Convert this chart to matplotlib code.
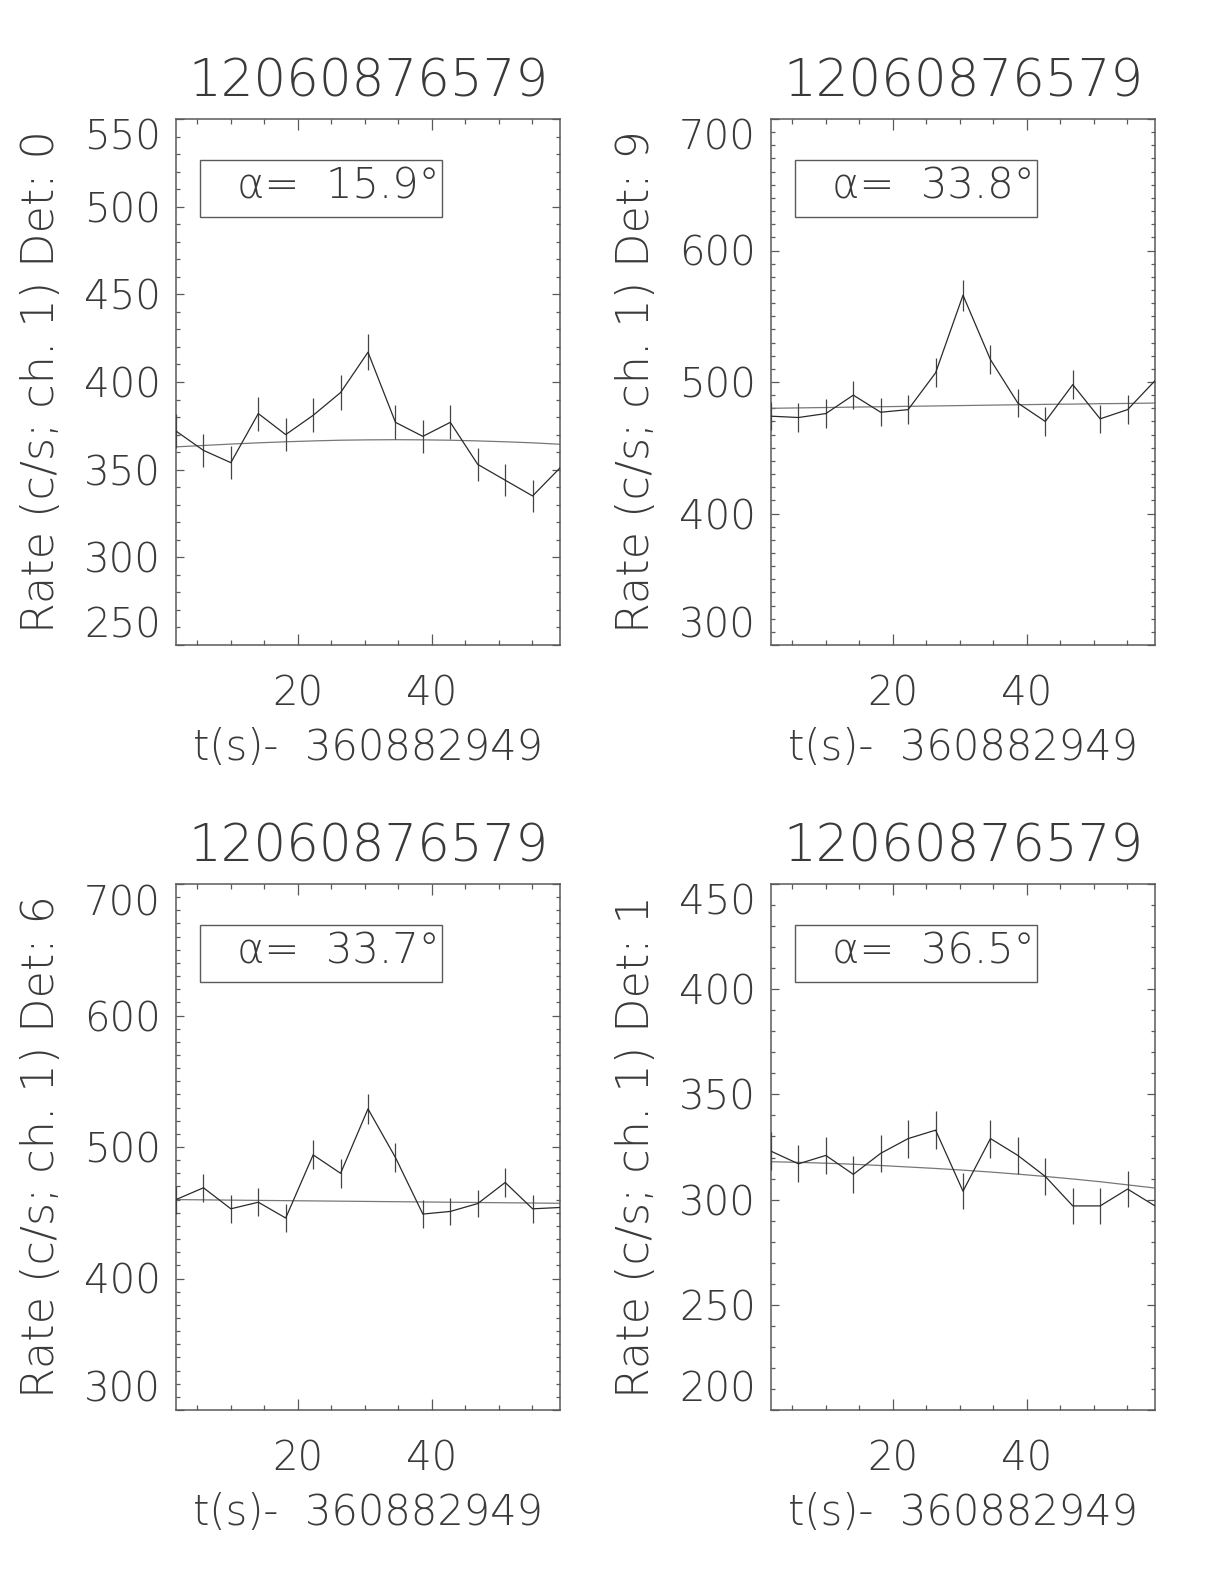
import matplotlib
matplotlib.use('Agg')
import matplotlib.pyplot as plt
from matplotlib import font_manager as fm
from matplotlib.ticker import MultipleLocator
from matplotlib.patches import Rectangle

# ---------------- data ----------------
time = [1.79, 5.89, 9.98, 14.08, 18.17, 22.27, 26.37, 30.46,
        34.56, 38.65, 42.75, 46.85, 50.94, 55.04, 59.13]

panel_titles = ['12060876579', '12060876579', '12060876579', '12060876579']
detectors = ['0', '9', '6', '1']
alphas = ['15.9', '33.8', '33.7', '36.5']

rate_det0 = [372, 361, 354, 382, 370, 381, 394, 417, 377, 369, 377, 353, 344, 335, 351]
err_det0 = [9.5, 9.4, 9.3, 9.7, 9.5, 9.6, 9.8, 10.1, 9.6, 9.5, 9.6, 9.3, 9.2, 9.0, 9.3]
fit_det0 = [363.0, 363.8, 364.6, 365.3, 365.9, 366.4, 366.8, 367.0, 367.1, 367.0,
            366.8, 366.4, 365.9, 365.3, 364.5]

rate_det9 = [474, 473, 476, 490, 477, 479, 507, 566, 517, 484, 470, 498, 472, 479, 501]
err_det9 = [10.8, 10.7, 10.8, 10.9, 10.8, 10.8, 11.1, 11.8, 11.2, 10.9, 10.7, 11.0, 10.7, 10.8, 11.1]
fit_det9 = [480.0, 480.3, 480.6, 480.9, 481.2, 481.5, 481.8, 482.1, 482.4, 482.7,
            483.0, 483.2, 483.5, 483.7, 484.0]

rate_det6 = [460, 469, 453, 458, 446, 494, 480, 529, 492, 449, 451, 457, 473, 453, 454]
err_det6 = [10.6, 10.7, 10.5, 10.6, 10.4, 11.0, 10.8, 11.4, 11.0, 10.5, 10.5, 10.6, 10.7, 10.5, 10.5]
fit_det6 = [460.0, 459.8, 459.6, 459.4, 459.2, 459.0, 458.8, 458.6, 458.4, 458.2,
            458.0, 457.8, 457.6, 457.4, 457.2]

rate_det1 = [323, 317, 321, 312, 322, 329, 333, 304, 329, 321, 311, 297, 297, 305, 297]
err_det1 = [8.9, 8.8, 8.9, 8.7, 8.9, 9.0, 9.0, 8.6, 9.0, 8.9, 8.7, 8.5, 8.5, 8.6, 8.5]
fit_det1 = [318.0, 317.7, 317.3, 316.8, 316.2, 315.5, 314.8, 314.0, 313.1, 312.1,
            311.0, 309.8, 308.5, 307.0, 305.5]

rates = [rate_det0, rate_det9, rate_det6, rate_det1]
errors = [err_det0, err_det9, err_det6, err_det1]
fits = [fit_det0, fit_det9, fit_det6, fit_det1]

y_ranges = [(250, 550), (300, 700), (300, 700), (200, 450)]
y_major = [50, 100, 100, 50]
y_minor = [10, 10, 10, 10]
x_major = 20
x_minor = 5
t_offset = '360882949'

# ---------------- font: prefer a light DejaVu, else lightest available ----------------
def _w(f):
    return f.weight if isinstance(f.weight, int) else 400

fonts = [(f.name, _w(f)) for f in fm.fontManager.ttflist if f.style == 'normal']
dv = [w for n, w in fonts if n == 'DejaVu Sans' and w < 400]
if dv:
    fam, wt = 'DejaVu Sans', min(dv)
else:
    cands = ['Roboto', 'Lato', 'Open Sans', 'Inter', 'Noto Sans']
    light = [(w, n) for n, w in fonts if n in cands]
    wt, fam = min(light) if light else (400, 'DejaVu Sans')

plt.rcParams['font.family'] = [fam, 'DejaVu Sans']
plt.rcParams['font.weight'] = wt
plt.rcParams['axes.titleweight'] = wt
plt.rcParams['axes.labelweight'] = wt

SMALL = 29 if fam == 'DejaVu Sans' else 31
TXT = '#3a3a3a'
AX = '#5a5a5a'
LINE = '#2a2a2a'

fig = plt.figure(figsize=(12.24, 15.84), dpi=100)
W, H = 1224, 1584
boxes = [(176, 119), (771, 119), (176, 884), (771, 884)]
aw, ah = 384, 526

for k in range(4):
    x0, ytop = boxes[k]
    ax = fig.add_axes([x0 / W, 1 - (ytop + ah) / H, aw / W, ah / H])
    ax.plot(time, fits[k], color='#777777', lw=0.9, zorder=2)
    ax.errorbar(time, rates[k], yerr=errors[k], fmt='-', color=LINE, ecolor='#444444',
                elinewidth=0.9, lw=0.9, capsize=0, zorder=3)
    ax.set_xlim(time[0], time[-1])
    ax.set_ylim(*y_ranges[k])
    ax.xaxis.set_major_locator(MultipleLocator(x_major))
    ax.xaxis.set_minor_locator(MultipleLocator(x_minor))
    ax.yaxis.set_major_locator(MultipleLocator(y_major[k]))
    ax.yaxis.set_minor_locator(MultipleLocator(y_minor[k]))
    ax.tick_params(axis='both', which='both', direction='in', top=True, right=True,
                   color=AX, width=0.9, labelcolor=TXT, labelsize=SMALL)
    ax.tick_params(axis='x', which='major', length=7.6, pad=21)
    ax.tick_params(axis='x', which='minor', length=3.8)
    ax.tick_params(axis='y', which='major', length=5.5, pad=11)
    ax.tick_params(axis='y', which='minor', length=2.8)
    for s in ax.spines.values():
        s.set_color(AX)
        s.set_linewidth(1.1)
    ax.set_title(panel_titles[k], fontsize=37, color=TXT, pad=16, fontweight=wt)
    ax.set_xlabel('t(s)-  ' + t_offset, fontsize=SMALL + 1, color=TXT, labelpad=10, fontweight=wt)
    ax.set_ylabel('Rate (c/s; ch. 1) Det: ' + detectors[k], fontsize=SMALL + 3, color=TXT,
                  labelpad=15, fontweight=wt)
    lo, hi = y_ranges[k]
    yt = [v for v in ax.get_yticks() if lo - 1e-6 <= v <= hi + 1e-6]
    ax.set_yticks(yt)
    ax.set_yticklabels([str(int(v)) for v in yt])
    for v, lab in zip(yt, ax.get_yticklabels()):
        lab.set_fontweight(wt)
        if abs(v - lo) < 1e-6:
            lab.set_va('bottom')
        elif abs(v - hi) < 1e-6:
            lab.set_va('top')
    for lab in ax.get_xticklabels():
        lab.set_fontweight(wt)
    # label box
    bx0 = (200 - 176) / aw
    bx1 = (442 - 176) / aw
    by1 = 1 - (160 - 119) / ah
    by0 = 1 - (217 - 119) / ah
    ax.add_patch(Rectangle((bx0, by0), bx1 - bx0, by1 - by0, transform=ax.transAxes,
                           fill=False, ec=AX, lw=1.0, zorder=4))
    ax.text((237 - 176) / aw, (by0 + by1) / 2 + 0.004, '\u03b1=  ' + alphas[k] + '\u00b0',
            transform=ax.transAxes, fontsize=SMALL + 1, color=TXT, va='center', ha='left',
            zorder=5, fontweight=wt)

fig.savefig('out.png', dpi=100, facecolor='white')
